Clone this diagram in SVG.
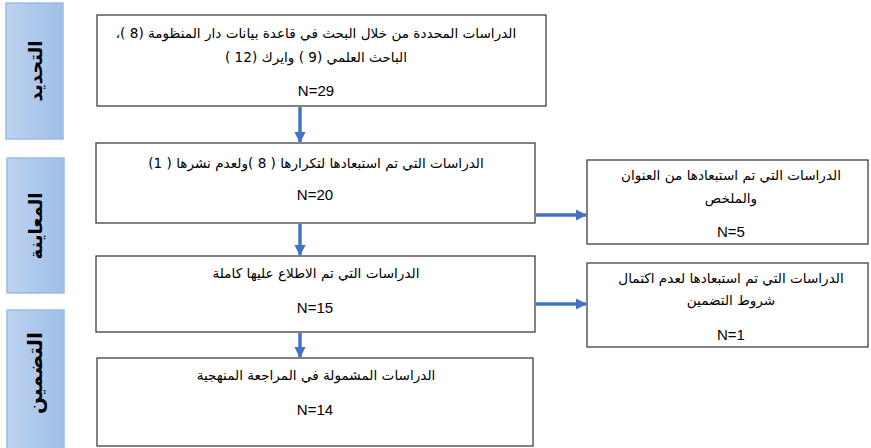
<svg xmlns="http://www.w3.org/2000/svg" width="871" height="448" viewBox="0 0 871 448">
<defs>
<linearGradient id="side" x1="0" y1="0" x2="1" y2="0">
<stop offset="0" stop-color="#bfd2ef"/>
<stop offset="1" stop-color="#9ebfe8"/>
</linearGradient>
<marker id="ah" viewBox="0 0 10 10" refX="9" refY="5" markerWidth="3.3" markerHeight="3.8" orient="auto" markerUnits="strokeWidth">
<path d="M0,0 L10,5 L0,10 z" fill="#4472c4"/>
</marker>
<style>
.side{fill:url(#side);stroke:#9dbde6;stroke-width:1.5}
.sidet{font-family:"DejaVu Sans",sans-serif;font-weight:bold;font-size:18px;fill:#000;text-anchor:middle;dominant-baseline:central}
.box{fill:#fff;stroke:#404040;stroke-width:1.3}
.ar{font-family:"DejaVu Sans",sans-serif;font-size:13.6px;fill:#000;text-anchor:middle;direction:rtl}
.n{font-family:"Liberation Sans",sans-serif;font-size:15px;fill:#000;text-anchor:middle}
.con{stroke:#4472c4;stroke-width:3.5;fill:none;marker-end:url(#ah)}
</style>
</defs>
<rect width="871" height="448" fill="#fff"/>
<g id="stage1">
<rect class="side" x="6" y="3" width="57" height="136"/>
<text class="sidet" transform="translate(35,71) rotate(-90)">التحديد</text>
</g>
<g id="stage2">
<rect class="side" x="7" y="158" width="57" height="135"/>
<text class="sidet" transform="translate(35,226) rotate(-90)">المعاينة</text>
</g>
<g id="stage3">
<rect class="side" x="7" y="310" width="57" height="145"/>
<text class="sidet" style="font-size:20px" transform="translate(35,373) rotate(-90)">التضمين</text>
</g>
<g id="boxA">
<rect class="box" x="97" y="15" width="449" height="91"/>
<text class="ar" x="316" y="38">الدراسات المحددة من خلال البحث في قاعدة بيانات دار المنظومة (8 )،</text>
<text class="ar" x="316" y="62">الباحث العلمي (9 ) وايرك (12 )</text>
<text class="n" x="316" y="96">N=29</text>
</g>
<g id="boxB">
<rect class="box" x="96" y="143" width="439" height="80"/>
<text class="ar" x="316" y="168">الدراسات التي تم استبعادها لتكرارها ( 8 )ولعدم نشرها ( 1)</text>
<text class="n" x="315" y="200">N=20</text>
</g>
<g id="boxC">
<rect class="box" x="587" y="160" width="281" height="84"/>
<text class="ar" x="731" y="180">الدراسات التي تم استبعادها من العنوان</text>
<text class="ar" x="731" y="203">والملخص</text>
<text class="n" x="731" y="237">N=5</text>
</g>
<g id="boxD">
<rect class="box" x="96" y="256" width="439" height="76"/>
<text class="ar" x="316" y="278">الدراسات التي تم الاطلاع عليها كاملة</text>
<text class="n" x="315" y="313">N=15</text>
</g>
<g id="boxE">
<rect class="box" x="587" y="263" width="281" height="84"/>
<text class="ar" x="731" y="283">الدراسات التي تم استبعادها لعدم اكتمال</text>
<text class="ar" x="731" y="305">شروط التضمين</text>
<text class="n" x="731" y="340">N=1</text>
</g>
<g id="boxF">
<rect class="box" x="97" y="358" width="436" height="88"/>
<text class="ar" x="316" y="380">الدراسات المشمولة في المراجعة المنهجية</text>
<text class="n" x="315" y="415">N=14</text>
</g>
<g id="connectors">
<line class="con" x1="300" y1="107" x2="300" y2="142"/>
<line class="con" x1="300" y1="224" x2="300" y2="255"/>
<line class="con" x1="300" y1="333" x2="300" y2="357"/>
<line class="con" x1="536" y1="215" x2="586" y2="215"/>
<line class="con" x1="536" y1="304" x2="586" y2="304"/>
</g>
</svg>
